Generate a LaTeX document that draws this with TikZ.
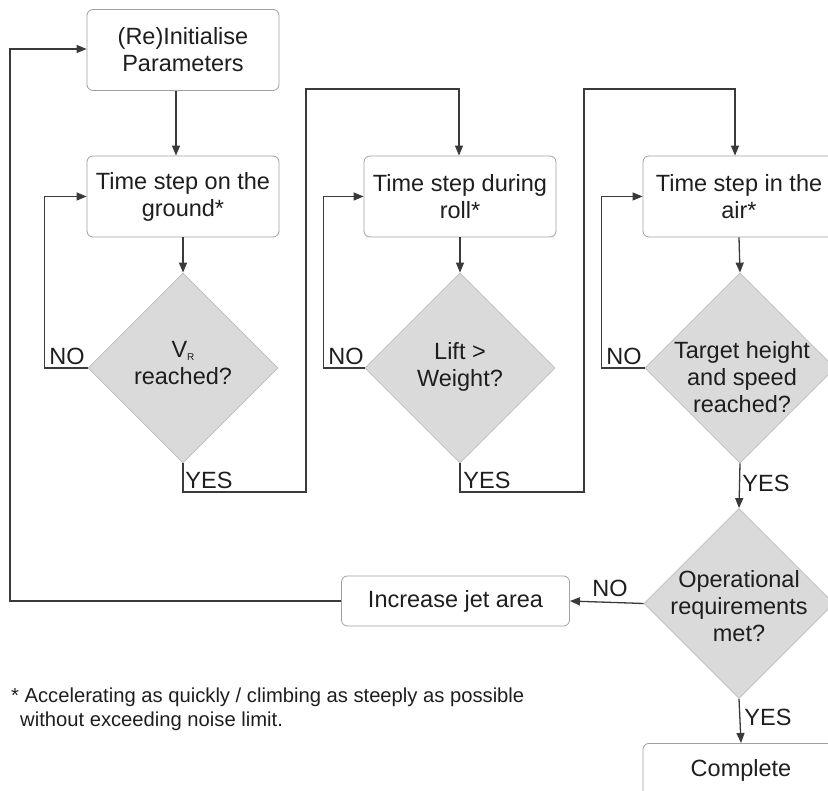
\documentclass[tikz,border=0pt]{standalone}
\usepackage{fontspec}
\setmainfont{Liberation Sans}
\usetikzlibrary{shapes.geometric,arrows.meta}
\definecolor{linec}{HTML}{3A3A3A}
\definecolor{boxc}{HTML}{A0A0A0}
\definecolor{diafill}{HTML}{DADADA}
\definecolor{diadraw}{HTML}{BDBDBD}
\definecolor{txtc}{HTML}{1E1E1E}
\begin{document}
\begin{tikzpicture}[x=1pt,y=-1pt,
  font=\fontsize{23.5}{27}\selectfont,
  stepbox/.style={draw=boxc,line width=0.8pt,rounded corners=6pt,fill=white,
    minimum width=192pt,minimum height=81pt,align=center,text=txtc,inner sep=2pt},
  decbox/.style={diamond,draw=diadraw,line width=0.8pt,fill=diafill,
    minimum width=190pt,minimum height=190pt,inner sep=0pt},
  txt/.style={align=center,text=txtc,inner sep=0pt},
  lbl/.style={text=txtc,inner sep=0pt},
  foot/.style={text=txtc,inner sep=0pt,align=left,font=\fontsize{20.2}{24}\selectfont},
  conn/.style={draw=linec,line width=1.3pt},
  arr/.style={conn,-{Triangle[length=10pt,width=8pt]}}]
\useasboundingbox (0,0) rectangle (828,791);
\clip (0,0) rectangle (828,791);

% nodes
\node[stepbox] (b1) at (183,50) {(Re)Initialise\\Parameters};
\node[stepbox] (b2) at (183,196.5) {Time step on the\\ground*};
\node[stepbox] (b3) at (460,196.5) {Time step during\\roll*};
\node[stepbox] (b4) at (739,196.5) {Time step in the\\air*};

\node[decbox] (d1) at (183,368) {};
\node[decbox] (d2) at (460,368) {};
\node[decbox] (d3) at (740,368) {};
\node[decbox] (d4) at (739,603.5) {};

\node[txt] (t1) at (183,363) {V\raisebox{-3pt}{\fontsize{10}{10}\selectfont R}\\reached?};
\node[txt] (t2) at (460,367) {Lift \textgreater\\Weight?};
\node[txt] (t3) at (742,377) {Target height\\and speed\\reached?};
\node[txt] (t4) at (739,606) {Operational\\requirements\\met?};

\node[stepbox,minimum width=228pt,minimum height=50pt] (inc) at (455.5,601) {Increase jet area};
\node[stepbox,anchor=north,minimum width=196pt,minimum height=90pt] (comp) at (741,743) {};
\node[txt] (compt) at (741,770) {Complete};

% labels
\node[lbl] (no1) at (67,356) {NO};
\node[lbl] (no2) at (346,356) {NO};
\node[lbl] (no3) at (624,356) {NO};
\node[lbl] (no4) at (610,588) {NO};
\node[lbl] (yes1) at (209,480) {YES};
\node[lbl] (yes2) at (487,480) {YES};
\node[lbl] (yes3) at (766,483) {YES};
\node[lbl] (yes4) at (768,717) {YES};

\node[foot,anchor=north west] (fn) at (11,688) {* Accelerating as quickly / climbing as steeply as possible\\\hspace*{9pt}without exceeding noise limit.};

% coordinates
\coordinate (lc) at (10,49);
\coordinate (ya) at (306,492);
\coordinate (ua) at (306,89);
\coordinate (yb) at (584,492);
\coordinate (ub) at (584,89);

% connectors
\draw[arr] ([xshift=-7pt]b1.south) -- ([xshift=-7pt]b2.north);
\draw[arr] (b2.south) -- (d1.north);
\draw[arr] (b3.south) -- (d2.north);
\draw[arr] (b4.south) -- (d3.north);

\draw[arr] (d1.west) -- ++(-43,0) |- (b2.west);
\draw[arr] (d2.west) -- ++(-41,0) |- (b3.west);
\draw[arr] (d3.west) -- ++(-43,0) |- (b4.west);

\draw[arr] (d1.south) |- (ya) -- (ua) -| ([xshift=-1pt]b3.north);
\draw[arr] (d2.south) |- (yb) -- (ub) -| ([xshift=-4pt]b4.north);

\draw[arr] (d3.south) -- (d4.north);
\draw[arr] (d4.west) -- (inc.east);
\draw[arr] (d4.south) -- (comp.north);
\draw[arr] (inc.west) -| (lc) -- (b1.west |- lc);
\end{tikzpicture}
\end{document}
